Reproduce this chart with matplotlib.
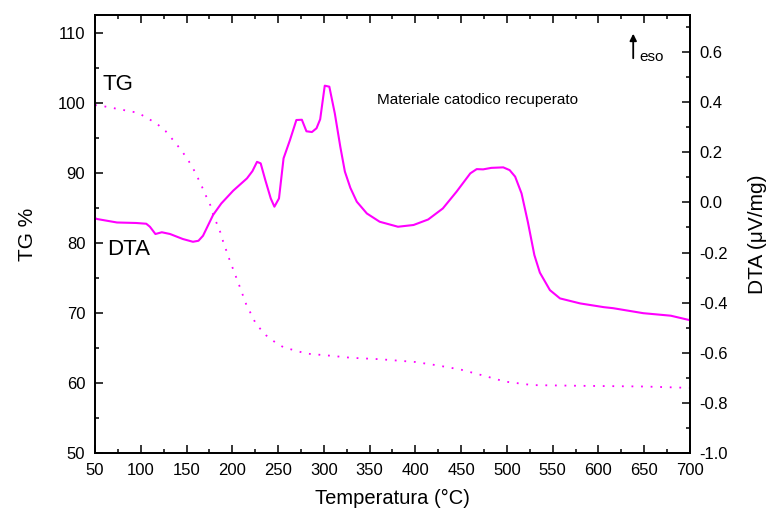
import matplotlib.pyplot as plt
from matplotlib.ticker import MultipleLocator

plt.rcParams['font.family'] = ['Liberation Sans', 'DejaVu Sans']

# TG curve (left axis, %)
tg_temp = [50, 57, 77, 97, 117, 127, 136, 144, 151, 157, 162, 167, 171, 176,
           179, 183, 187, 190, 197, 208, 215, 226, 237, 247, 256, 281, 307,
           330, 361, 400, 425, 450, 476, 498, 528, 580, 650, 700]
tg_val = [99.7, 99.6, 99.1, 98.6, 97.1, 96.0, 94.6, 93.3, 92.0, 90.7, 89.4,
          88.0, 86.8, 85.4, 84.1, 82.8, 81.5, 80.2, 77.6, 73.8, 71.3, 68.4,
          66.8, 65.8, 65.1, 64.2, 63.9, 63.6, 63.4, 63.0, 62.5, 61.9, 61.0,
          60.2, 59.7, 59.6, 59.5, 59.3]

# DTA curve (right axis, uV/mg)
dta_temp = [50, 52, 74, 95, 106, 110, 116, 123, 132, 146, 157, 163, 168, 179,
            188, 201, 216, 222, 227, 231, 236, 242, 246, 251, 256, 263, 270,
            276, 281, 287, 292, 296, 301, 306, 312, 318, 323, 329, 336, 347,
            361, 381, 398, 414, 430, 445, 460, 467, 474, 483, 496, 503, 509,
            516, 523, 530, 536, 547, 558, 580, 606, 616, 649, 679, 700]
dta_val = [-0.062, -0.066, -0.080, -0.082, -0.085, -0.097, -0.126, -0.119,
           -0.126, -0.146, -0.157, -0.153, -0.133, -0.050, -0.004, 0.047,
           0.096, 0.125, 0.162, 0.156, 0.090, 0.016, -0.017, 0.016, 0.176,
           0.249, 0.329, 0.330, 0.284, 0.281, 0.296, 0.332, 0.466, 0.462,
           0.355, 0.222, 0.123, 0.058, 0.003, -0.044, -0.077, -0.097, -0.090,
           -0.068, -0.024, 0.043, 0.116, 0.133, 0.132, 0.138, 0.140, 0.129,
           0.103, 0.036, -0.080, -0.210, -0.280, -0.350, -0.383, -0.403,
           -0.418, -0.422, -0.442, -0.452, -0.470]

col = '#ff00ff'

fig = plt.figure(figsize=(7.68, 5.11), dpi=100)
ax = fig.add_axes([0.1237, 0.1135, 0.7747, 0.8571])
ax2 = ax.twinx()

ax.plot(tg_temp, tg_val, color=col, lw=1.3, linestyle=(0, (1, 4.3)),
        dash_capstyle='butt')
ax2.plot(dta_temp, dta_val, color=col, lw=1.5)

ax.set_xlim(50, 700)
ax.set_ylim(50, 112.57)
ax2.set_ylim(-1.0, 0.748)

ax.xaxis.set_major_locator(MultipleLocator(50))
ax.xaxis.set_minor_locator(MultipleLocator(25))
ax.yaxis.set_major_locator(MultipleLocator(10))
ax.yaxis.set_minor_locator(MultipleLocator(5))
ax2.yaxis.set_minor_locator(MultipleLocator(0.1))
ax2.set_yticks([-1.0, -0.8, -0.6, -0.4, -0.2, 0.0, 0.2, 0.4, 0.6])
ax2.set_yticklabels(['-1.0', '-0.8', '-0.6', '-0.4', '-0.2', '0.0', '0.2', '0.4', '0.6'])

ax.tick_params(axis='both', which='major', direction='in', length=6, width=1.1,
               labelsize=12, pad=7)
ax.tick_params(axis='both', which='minor', direction='in', length=3, width=1.1)
ax.tick_params(axis='x', top=True, which='both')
ax2.tick_params(axis='y', which='major', direction='in', length=6, width=1.1,
                labelsize=12, pad=7)
ax2.tick_params(axis='y', which='minor', direction='in', length=3, width=1.1)

for a in (ax, ax2):
    for s in a.spines.values():
        s.set_linewidth(1.3)

ax.set_xlabel('Temperatura (°C)', fontsize=14.5, labelpad=8)
ax.set_ylabel('TG %', fontsize=15, labelpad=15)
ax2.set_ylabel('DTA (μV/mg)', fontsize=15, labelpad=14)

ax.text(58.7, 102.6, 'TG', fontsize=16, va='center', ha='left')
ax.text(62.7, 79.1, 'DTA', fontsize=16, va='center', ha='left')
ax.text(358, 100.4, 'Materiale catodico recuperato', fontsize=11,
        va='center', ha='left')
ax.annotate('', xy=(638, 110.3), xytext=(638, 106.0),
            arrowprops=dict(arrowstyle='-|>', color='black', lw=1.3,
                            mutation_scale=10))
ax.text(645, 106.6, 'eso', fontsize=11, va='center', ha='left')

fig.savefig('out.png', dpi=100)
